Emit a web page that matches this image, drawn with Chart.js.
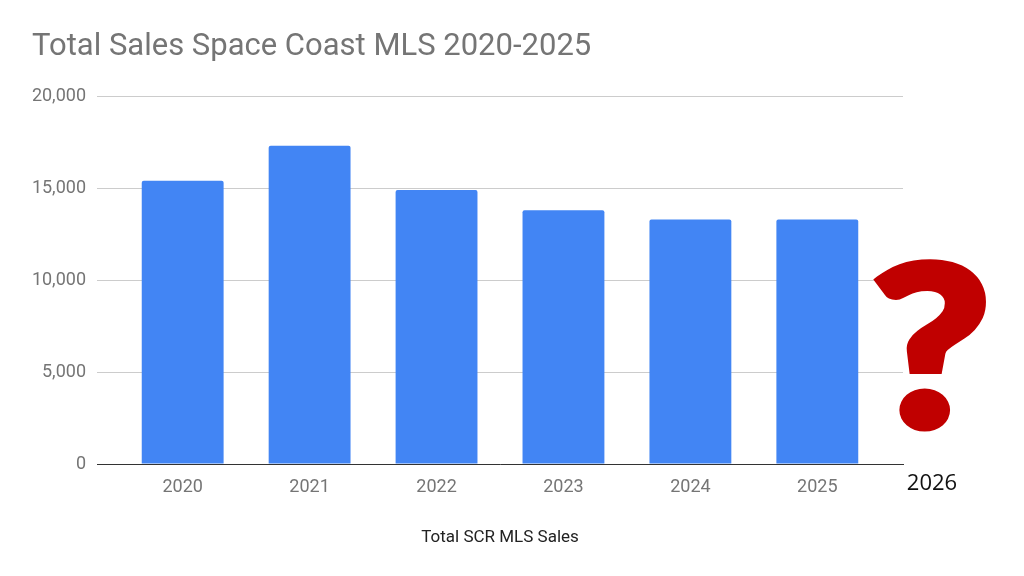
<!DOCTYPE html>
<html>
<head>
<meta charset="utf-8">
<script src="https://cdn.jsdelivr.net/npm/chart.js@4"></script>
<style>
    html, body { margin: 0; padding: 0; background: #fff; }
    #wrap { position: relative; width: 1024px; height: 576px; }
    #sales-chart { position: absolute; left: 0; top: 0; }
    .next-year {
        position: absolute; left: 882px; top: 466px; width: 100px;
        text-align: center; font: 22px "Open Sans", sans-serif; color: #111;
    }
    .question {
        position: absolute; left: 831px; top: 230px; width: 200px;
        text-align: center; font: bold 220px/1 "Lato", sans-serif;
        color: #c00000; -webkit-text-stroke: 10px #c00000;
        transform: scaleX(1.17); transform-origin: center;
    }
</style>
</head>
<body>
<div id="wrap">
    <canvas id="sales-chart" width="1024" height="576"></canvas>
    <div class="question">?</div>
    <div class="next-year">2026</div>
</div>
<script>
// Total sales per year
const years = ['2020', '2021', '2022', '2023', '2024', '2025'];
const totalSales = [15400, 17300, 14900, 13800, 13300, 13300];
const yTicks = [0, 5000, 10000, 15000, 20000];

const gray = '#757575';

const ctx = document.getElementById('sales-chart').getContext('2d');
new Chart(ctx, {
    type: 'bar',
    data: {
        datasets: [{
            label: 'Total SCR MLS Sales',
            data: totalSales.map((v, i) => ({ x: i, y: v })),
            backgroundColor: '#4285f4',
            borderRadius: 2,
            borderSkipped: 'bottom',
            categoryPercentage: 1,
            barPercentage: 0.645
        }]
    },
    options: {
        responsive: false,
        animation: false,
        layout: { padding: { left: 32, right: 121, top: 0, bottom: 28 } },
        plugins: {
            legend: { display: false },
            tooltip: { enabled: false },
            title: {
                display: true,
                text: 'Total Sales Space Coast MLS 2020-2025',
                align: 'start',
                color: gray,
                font: { family: 'Roboto', size: 31, weight: 'normal' },
                padding: { top: 29, bottom: 30 }
            }
        },
        scales: {
            x: {
                type: 'linear',
                offset: false,
                min: -0.675,
                max: 5.675,
                afterBuildTicks: axis => { axis.ticks = years.map((_, i) => ({ value: i })); },
                grid: { display: false, drawTicks: false, offset: false },
                border: { display: true, color: '#333', width: 1 },
                ticks: {
                    color: gray,
                    padding: 13,
                    font: { family: 'Roboto', size: 18 },
                    callback: v => years[v]
                },
                title: {
                    display: true,
                    text: 'Total SCR MLS Sales',
                    color: '#222',
                    font: { family: 'Roboto', size: 17 },
                    padding: { top: 16, bottom: 0 }
                }
            },
            y: {
                min: 0,
                max: 20000,
                afterBuildTicks: axis => { axis.ticks = yTicks.map(v => ({ value: v })); },
                afterFit: axis => { axis.width = 65; },
                grid: { color: '#cccccc', drawTicks: false },
                border: { display: false },
                ticks: {
                    color: gray,
                    padding: 11,
                    font: { family: 'Roboto', size: 18 },
                    callback: v => v.toLocaleString('en-US')
                }
            }
        }
    }
});
</script>
</body>
</html>
